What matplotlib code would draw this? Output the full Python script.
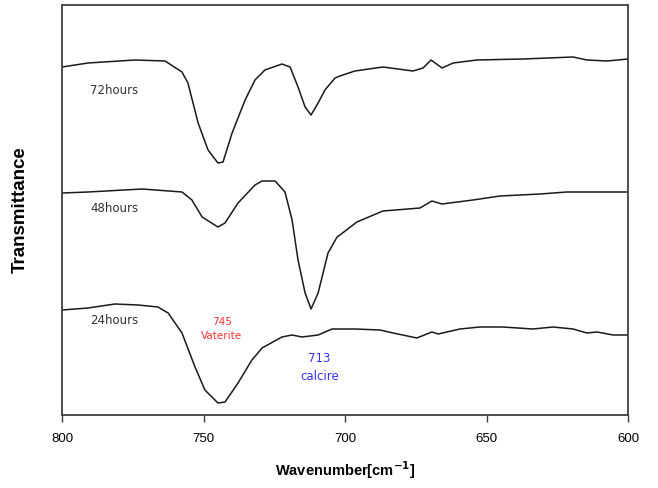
import matplotlib
matplotlib.use("Agg")
import matplotlib.pyplot as plt

# Wavenumbers (cm^-1) and stacked transmittance (arbitrary units)
wn_72 = [800, 790.8, 774.2, 763.6, 757.6, 755.5, 751.9, 748.4, 744.9, 743.1, 739.9, 735.3,
         731.8, 728.3, 722.3, 719.4, 716.6, 714.1, 712.0, 709.5, 707.1, 703.5, 701.8, 696.5,
         686.6, 676.0, 672.4, 669.6, 665.7, 661.8, 653.4, 637.1, 619.4, 614.5, 607.4, 600]
t_72 = [348, 352, 355, 354, 343, 332, 292, 265, 252, 253, 282, 315,
        335, 345, 351, 348, 328, 308, 300, 312, 325, 337, 339, 344,
        348, 344, 347, 355, 347, 352, 355, 356, 358, 355, 354, 356]

wn_48 = [800, 790.8, 771.7, 757.6, 754.1, 750.5, 744.9, 742.4, 737.8, 731.8, 729.3, 724.7,
         721.2, 718.7, 716.6, 714.1, 712.0, 709.5, 706.0, 702.8, 701.8, 695.8, 686.6, 673.5,
         669.3, 665.7, 654.8, 645.2, 631.1, 621.6, 607.4, 600]
t_48 = [222, 223, 226, 223, 215, 198, 188, 192, 212, 230, 234, 234,
        223, 195, 155, 122, 106, 122, 162, 178, 180, 193, 204, 207,
        214, 211, 215, 219, 221, 223, 223, 223]

wn_24 = [800, 790.8, 781.3, 773.1, 766.1, 762.5, 757.6, 753.0, 749.5, 744.9, 742.4, 737.8,
         732.9, 729.3, 722.3, 718.7, 715.2, 709.5, 704.6, 696.5, 687.6, 683.0, 674.6, 669.3,
         667.1, 659.4, 652.3, 644.2, 633.6, 626.5, 619.4, 614.5, 610.9, 605.3, 600]
t_24 = [105, 107, 111, 110, 108, 102, 82, 48, 25, 12, 13, 32,
        55, 67, 78, 80, 78, 80, 86, 86, 85, 82, 77, 83,
        81, 86, 88, 88, 86, 88, 86, 82, 83, 80, 80]

series_labels = ["72hours", "48hours", "24hours"]
xticks = [800, 750, 700, 650, 600]

fig = plt.figure(figsize=(6.58, 4.88), dpi=100)
ax = fig.add_axes([62/658, 1-415/488, 566/658, 410/488])

for wn, t in [(wn_72, t_72), (wn_48, t_48), (wn_24, t_24)]:
    ax.plot(wn, t, color="#1a1a1a", lw=1.1)

ax.set_xlim(800, 600)
ax.set_ylim(0, 410)
ax.set_xticks(xticks)
ax.set_xticklabels([str(v) for v in xticks], fontsize=9.5, family="Liberation Sans")
ax.set_yticks([])
ax.tick_params(axis="x", direction="out", length=5, width=1, color="#404040", pad=8)
for s in ax.spines.values():
    s.set_color("#404040")
    s.set_linewidth(1.3)

label_x = 790
ax.text(label_x, 415-91, series_labels[0], fontsize=8.5, color="#333333", va="center", ha="left")
ax.text(label_x, 415-209, series_labels[1], fontsize=8.5, color="#333333", va="center", ha="left")
ax.text(label_x, 415-320, series_labels[2], fontsize=8.5, color="#333333", va="center", ha="left")

ax.text(743.5, 415-322, "745", fontsize=7.5, color="#ff3333", ha="center", va="center")
ax.text(743.5, 415-336, "Vaterite", fontsize=7.5, color="#ff3333", ha="center", va="center")
ax.text(709, 415-359, "713", fontsize=8.5, color="#3333ff", ha="center", va="center")
ax.text(709, 415-377, "calcire", fontsize=8.5, color="#3333ff", ha="center", va="center")

ax.set_xlabel("Wavenumber[cm$^{\\mathbf{-1}}$]", fontsize=10.5, fontweight="bold",
              family="Liberation Sans", labelpad=10)
ax.set_ylabel("Transmittance", fontsize=13.5, fontweight="bold", family="Liberation Sans",
              labelpad=24)

fig.savefig("out.png", dpi=100)
